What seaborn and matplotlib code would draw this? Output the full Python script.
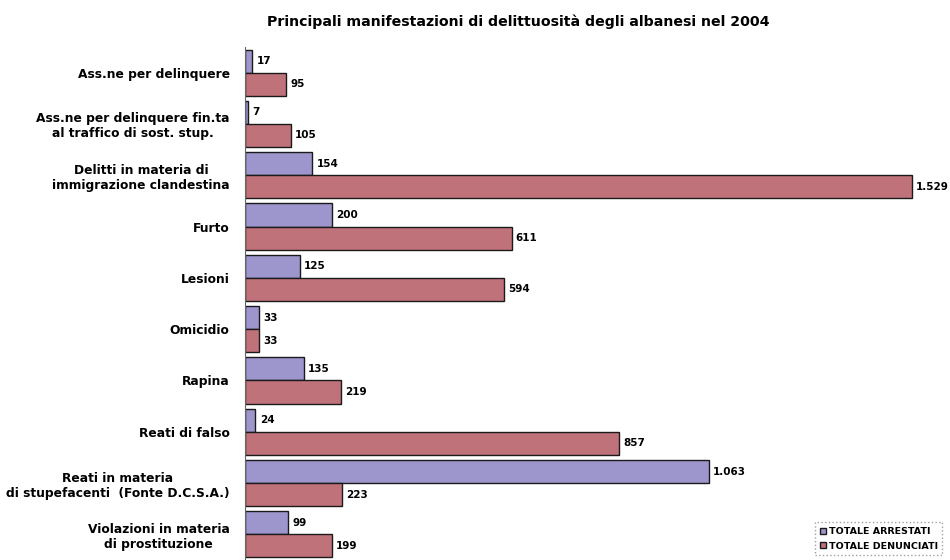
import matplotlib
matplotlib.use("Agg")
import matplotlib.pyplot as plt
import seaborn as sns
import pandas as pd

categories = [
    "Ass.ne per delinquere",
    "Ass.ne per delinquere fin.ta\nal traffico di sost. stup.",
    "Delitti in materia di\nimmigrazione clandestina",
    "Furto",
    "Lesioni",
    "Omicidio",
    "Rapina",
    "Reati di falso",
    "Reati in materia\ndi stupefacenti  (Fonte D.C.S.A.)",
    "Violazioni in materia\ndi prostituzione",
]
arrestati = [17, 7, 154, 200, 125, 33, 135, 24, 1063, 99]
denunciati = [95, 105, 1529, 611, 594, 33, 219, 857, 223, 199]
series_names = ["TOTALE ARRESTATI", "TOTALE DENUNCIATI"]
colors = ["#9c96cc", "#c0727a"]

df = pd.DataFrame({
    "categoria": categories * 2,
    "valore": arrestati + denunciati,
    "serie": [series_names[0]] * len(categories) + [series_names[1]] * len(categories),
})

sns.set_style("white")
plt.rcParams["font.family"] = ["DejaVu Sans"]
plt.rcParams["text.color"] = "black"
plt.rcParams["ytick.color"] = "black"

fig = plt.figure(figsize=(9.5, 5.6), dpi=100)
ax = fig.add_axes([245 / 950, 0.0, 698 / 950, 1 - 47 / 560])

sns.barplot(data=df, y="categoria", x="valore", hue="serie", orient="h",
            palette=colors, saturation=1, width=0.9, edgecolor="#1a1a1a",
            linewidth=1.0, ax=ax, legend=True)


def fmt(v):
    return f"{v:,}".replace(",", ".")


for cont, vals in zip(ax.containers, [arrestati, denunciati]):
    ax.bar_label(cont, labels=[fmt(v) for v in vals], padding=3,
                 fontsize=7.5, fontweight="bold", color="black")

ax.set_xlim(0, 1600)
ax.set_ylim(len(categories) - 0.5, -0.5)
ax.set_xlabel("")
ax.set_ylabel("")
ax.set_xticks([])
ax.set_yticks(range(len(categories)))
ax.set_yticklabels(categories, fontsize=8.8, fontweight="bold",
                   multialignment="center", color="black")
ax.tick_params(axis="y", which="major", length=0, pad=11)
ax.set_yticks([i - 0.5 for i in range(len(categories) + 1)], minor=True)
ax.tick_params(axis="y", which="minor", length=4, width=0.8, color="#555555")

for side in ["top", "right", "bottom"]:
    ax.spines[side].set_visible(False)
ax.spines["left"].set_color("#666666")
ax.spines["left"].set_linewidth(0.8)

leg = ax.legend(loc="lower right", bbox_to_anchor=(1.006, 0.0),
                prop={"weight": "bold", "size": 6.8},
                frameon=True, fancybox=False, handlelength=0.6,
                handleheight=0.6, handletextpad=0.3, borderpad=0.5,
                labelspacing=0.6)
leg.get_frame().set_edgecolor("#888888")
leg.get_frame().set_linestyle(":")
leg.get_frame().set_linewidth(1.0)

fig.text(518 / 950, 1 - 22 / 560,
         "Principali manifestazioni di delittuosità degli albanesi nel 2004",
         ha="center", va="center", fontsize=10.2, fontweight="bold",
         color="black")

fig.savefig("out.png", dpi=100)
